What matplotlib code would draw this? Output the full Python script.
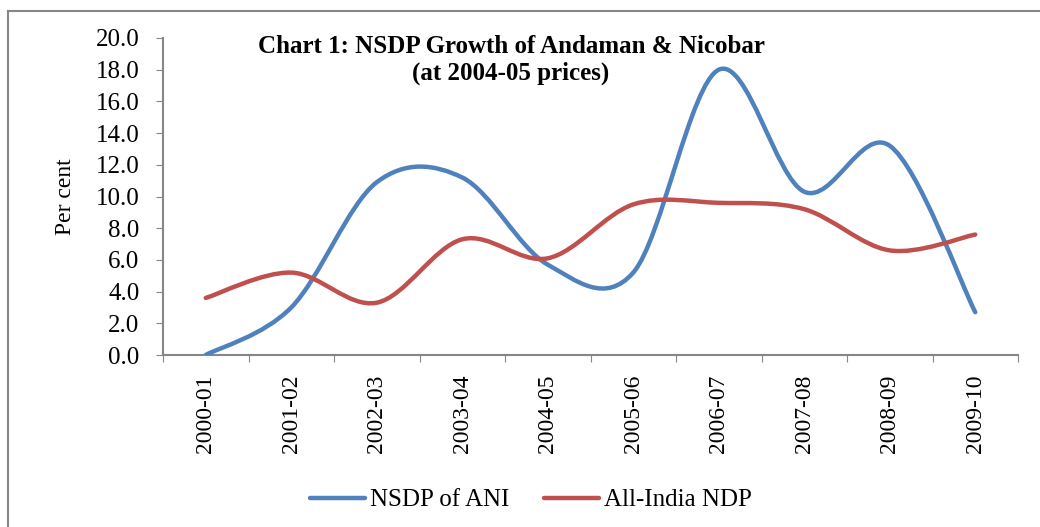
import matplotlib.pyplot as plt
import numpy as np
from matplotlib.path import Path
from matplotlib.patches import PathPatch
from matplotlib.lines import Line2D

plt.rcParams["font.family"] = ["Liberation Serif", "DejaVu Serif"]

years = ["2000-01", "2001-02", "2002-03", "2003-04", "2004-05",
         "2005-06", "2006-07", "2007-08", "2008-09", "2009-10"]
nsdp_ani = [0.0, 3.0, 10.9, 11.2, 5.7, 5.2, 18.0, 10.3, 13.2, 2.7]
all_india = [3.6, 5.2, 3.3, 7.3, 6.1, 9.5, 9.6, 9.2, 6.6, 7.6]

BLUE = "#4F81BD"
RED = "#C0504D"
GREY = "#868686"
FS = 17


def smooth_path(xs, ys):
    # Excel style smoothed line: Catmull-Rom converted to cubic bezier
    pts = np.column_stack([xs, ys]).astype(float)
    n = len(pts)
    verts = [pts[0]]
    codes = [Path.MOVETO]
    for i in range(n - 1):
        p0 = pts[max(i - 1, 0)]
        p1 = pts[i]
        p2 = pts[i + 1]
        p3 = pts[min(i + 2, n - 1)]
        c1 = p1 + (p2 - p0) / 6.0
        c2 = p2 - (p3 - p1) / 6.0
        verts += [c1, c2, p2]
        codes += [Path.CURVE4] * 3
    return Path(verts, codes)


fig = plt.figure(figsize=(10.4, 5.27), dpi=100)
ax = fig.add_axes([163 / 1040, 1 - 355 / 527, 855 / 1040, 317 / 527])

x = np.arange(len(years))
for vals, col in [(nsdp_ani, BLUE), (all_india, RED)]:
    patch = PathPatch(smooth_path(x, vals), facecolor="none", edgecolor=col,
                      lw=3.2, capstyle="round", joinstyle="round", zorder=3)
    ax.add_patch(patch)

ax.set_xlim(-0.5, len(years) - 0.5)
ax.set_ylim(0, 20)
ax.set_yticks(np.arange(0, 20.1, 2))
ax.set_yticklabels([f"{v:.1f}" for v in np.arange(0, 20.1, 2)], fontsize=18)
ax.set_xticks(np.arange(-0.5, len(years), 1))
ax.set_xticklabels([])
ax.set_xticks(x, minor=True)
ax.set_xticklabels(years, minor=True, rotation=90, fontsize=FS)
ax.tick_params(axis="x", which="minor", length=0, pad=14)
ax.tick_params(axis="x", which="major", length=5, color=GREY, direction="out")
ax.tick_params(axis="y", length=5, color=GREY, direction="out", pad=12)

for s in ["top", "right"]:
    ax.spines[s].set_visible(False)
for s in ["left", "bottom"]:
    ax.spines[s].set_color(GREY)
    ax.spines[s].set_linewidth(1.5)

ax.set_ylabel("Per cent", fontsize=FS, labelpad=14)

fig.text(511 / 1040, 1 - 35 / 527,
         "Chart 1: NSDP Growth of Andaman & Nicobar\n(at 2004-05 prices)",
         ha="center", va="top", fontsize=18, fontweight="bold",
         linespacing=1.2)

handles = [Line2D([], [], color=BLUE, lw=3.2, solid_capstyle="round"),
           Line2D([], [], color=RED, lw=3.2, solid_capstyle="round")]
fig.legend(handles, ["NSDP of ANI", "All-India NDP"], loc="center",
           bbox_to_anchor=(531 / 1040, 1 - 500 / 527), ncol=2, frameon=False,
           fontsize=18, handlelength=2.2, handletextpad=0.2,
           columnspacing=1.4)

# outer chart border (top and left edges visible)
fig.add_artist(Line2D([8 / 1040, 1.0], [1 - 11 / 527, 1 - 11 / 527],
                      transform=fig.transFigure, color=GREY, lw=1.5))
fig.add_artist(Line2D([8 / 1040, 8 / 1040], [1 - 11 / 527, 0.0],
                      transform=fig.transFigure, color=GREY, lw=1.5))

fig.savefig("out.png", dpi=100)
